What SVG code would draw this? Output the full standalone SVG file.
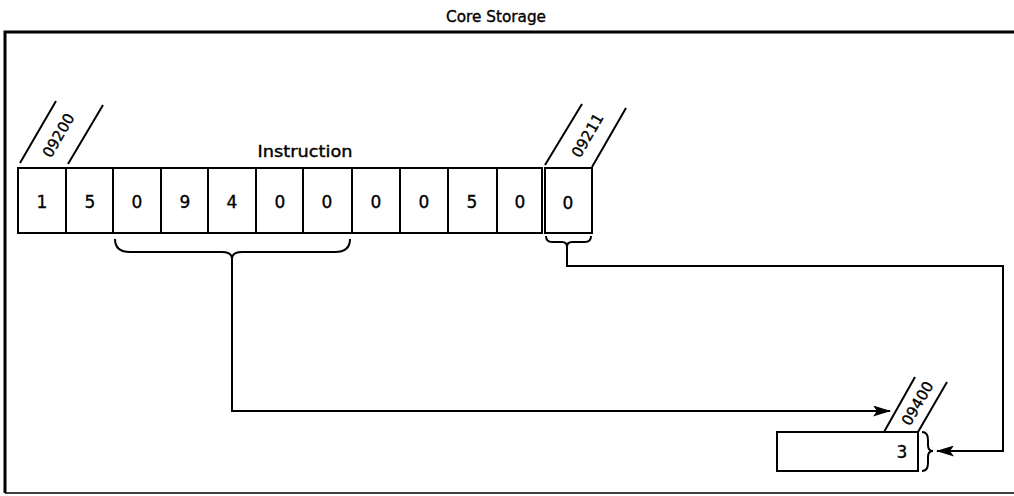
<svg xmlns="http://www.w3.org/2000/svg" width="1014" height="496" viewBox="0 0 1014 496">
<defs>
<style>
.ln{fill:none;stroke:#000;stroke-width:2}
.cell{fill:#fff;stroke:#000;stroke-width:2}
.t{font-family:"DejaVu Sans","Liberation Sans",Arial,sans-serif;fill:#000;stroke:#000;stroke-width:0.35}
.d{font-size:17px;text-anchor:middle}
.lbl{font-size:15px;text-anchor:middle}
.addr{font-size:15px;text-anchor:middle}
</style>
<marker id="ah" markerWidth="18" markerHeight="11" refX="17" refY="5.5" orient="auto" markerUnits="userSpaceOnUse">
<path d="M0,0 L18,5.5 L0,11 L4,5.5 Z" fill="#000"/>
</marker>
</defs>
<rect width="1014" height="496" fill="#fff"/>
<g id="frame">
<path d="M1014,32 H5 V493" fill="none" stroke="#000" stroke-width="3"/>
<path d="M5,493 H1014" fill="none" stroke="#000" stroke-width="1.5"/>
<text class="t lbl" x="496" y="22" textLength="100" lengthAdjust="spacingAndGlyphs">Core Storage</text>
</g>
<g id="instruction">
<text class="t lbl" x="305" y="157" textLength="95" lengthAdjust="spacingAndGlyphs">Instruction</text>
<rect class="cell" x="18" y="168" width="48" height="65"/>
<rect class="cell" x="66" y="168" width="47" height="65"/>
<rect class="cell" x="113" y="168" width="48" height="65"/>
<rect class="cell" x="161" y="168" width="47" height="65"/>
<rect class="cell" x="208" y="168" width="48" height="65"/>
<rect class="cell" x="256" y="168" width="47" height="65"/>
<rect class="cell" x="303" y="168" width="49" height="65"/>
<rect class="cell" x="352" y="168" width="48" height="65"/>
<rect class="cell" x="400" y="168" width="48" height="65"/>
<rect class="cell" x="448" y="168" width="49" height="65"/>
<rect class="cell" x="497" y="168" width="45" height="65"/>
<text class="t d" x="42" y="208">1</text>
<text class="t d" x="90" y="208">5</text>
<text class="t d" x="137" y="208">0</text>
<text class="t d" x="185" y="208">9</text>
<text class="t d" x="232" y="208">4</text>
<text class="t d" x="280" y="208">0</text>
<text class="t d" x="327" y="208">0</text>
<text class="t d" x="376" y="208">0</text>
<text class="t d" x="424" y="208">0</text>
<text class="t d" x="472" y="208">5</text>
<text class="t d" x="520" y="208">0</text>
<path class="ln" d="M20,163 L56,101 M68,164 L103,105"/>
<text class="t addr" transform="translate(63,138) rotate(-60)">09200</text>
</g>
<g id="cell-09211">
<rect class="cell" x="545" y="168" width="47" height="65"/>
<text class="t d" x="568" y="209">0</text>
<path class="ln" d="M545,165 L582,104 M592,167 L626,108"/>
<text class="t addr" transform="translate(592,138) rotate(-60)">09211</text>
</g>
<g id="cell-09400">
<rect class="cell" x="777" y="432" width="141" height="39"/>
<text class="t d" x="902" y="458">3</text>
<path class="ln" d="M884,432 L915,377 M918,432 L947,382"/>
<text class="t addr" transform="translate(922,406) rotate(-60)">09400</text>
</g>
<g id="connectors">
<path class="ln" d="M115,239 Q115,252 130,252 H222 Q232,252 232,259 Q232,252 242,252 H335 Q350,252 350,239"/>
<path class="ln" d="M232,259 V411 H890" marker-end="url(#ah)"/>
<path class="ln" d="M546,236 Q546,242 552,242 H562 Q567,242 567,247 Q567,242 572,242 H585 Q591,242 591,236"/>
<path class="ln" d="M567,247 V266 H1003 V451 H937" marker-end="url(#ah)"/>
<path class="ln" d="M922,432 Q928,432 928,440 V445 Q928,451 933,451 Q928,451 928,457 V463 Q928,471 922,471"/>
</g>
</svg>
